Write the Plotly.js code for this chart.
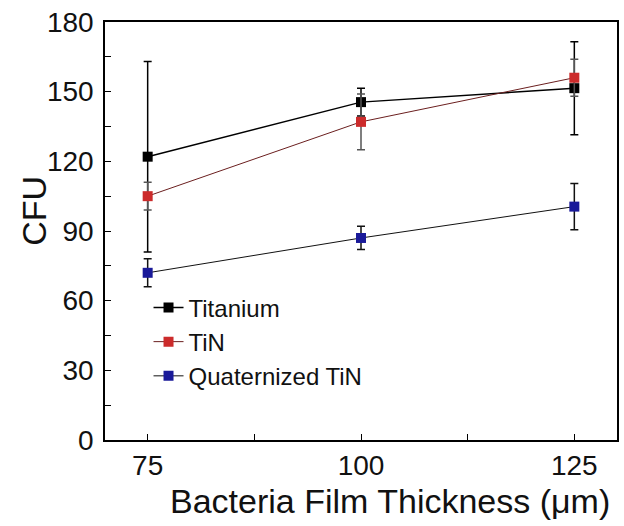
<!DOCTYPE html>
<html>
<head>
<script src="https://cdn.plot.ly/plotly-3.0.1.min.js"></script>
<style>body{margin:0;background:#fff}#plot{width:624px;height:526px}</style>
</head>
<body>
<div id="plot"></div>
<script>
const thickness = [75, 100, 125];

const titanium = [122, 145.5, 151.5];
const titaniumErr = [41, 6, 20];

const tin = [105, 137, 156];
const tinErr = [6, 12, 8];

const quatTin = [72, 87, 100.5];
const quatTinErr = [6, 5, 10];

function series(name, y, err, lineColor, markerColor, errColor, lineWidth) {
    return {
        x: thickness, y: y, name: name, mode: "lines+markers", type: "scatter",
        line: { color: lineColor, width: lineWidth },
        marker: { symbol: "square", size: 10, color: markerColor },
        error_y: { type: "data", array: err, visible: true, color: errColor, thickness: 1.5, width: 4 }
    };
}

const data = [
    series("Titanium", titanium, titaniumErr, "#000000", "#000000", "#000000", 1.5),
    series("TiN", tin, tinErr, "#6b1f1f", "#cc2b2b", "#555555", 1),
    series("Quaternized TiN", quatTin, quatTinErr, "#111111", "#1a1a99", "#111111", 1)
];

const layout = {
    width: 624, height: 526,
    margin: { l: 105, r: 7, t: 22, b: 86 },
    paper_bgcolor: "#fff", plot_bgcolor: "#fff",
    font: { family: "Liberation Sans, Arial, sans-serif", color: "#111" },
    showlegend: true,
    legend: { x: 0.085, y: 0.37, xanchor: "left", yanchor: "top", bgcolor: "rgba(0,0,0,0)",
              font: { size: 24 }, tracegroupgap: 0, itemwidth: 30 },
    xaxis: {
        range: [70, 130], tickvals: [75, 87.5, 100, 112.5, 125], ticktext: ["75", "", "100", "", "125"],
        ticks: "inside", ticklen: 6, tickcolor: "#000",
        showline: true, linecolor: "#000", linewidth: 1.5, mirror: true,
        showgrid: false, zeroline: false,
        tickfont: { size: 28 }
    },
    yaxis: {
        range: [0, 180], tickvals: [0, 15, 30, 45, 60, 75, 90, 105, 120, 135, 150, 165, 180],
        ticktext: ["0", "", "30", "", "60", "", "90", "", "120", "", "150", "", "180"],
        ticks: "inside", ticklen: 6, tickcolor: "#000",
        showline: true, linecolor: "#000", linewidth: 1.5, mirror: true,
        showgrid: false, zeroline: false,
        tickfont: { size: 28 }, ticklabelstandoff: 4
    },
    annotations: [
        { text: "Bacteria Film Thickness (μm)", xref: "paper", yref: "paper", x: 0.557, y: -0.146,
          xanchor: "center", yanchor: "middle", showarrow: false, font: { size: 34 } },
        { text: "CFU", xref: "paper", yref: "paper", x: -0.14, y: 0.549, textangle: -90,
          xanchor: "center", yanchor: "middle", showarrow: false, font: { size: 34 } }
    ]
};

Plotly.newPlot("plot", data, layout, { displayModeBar: false });
</script>
</body>
</html>
